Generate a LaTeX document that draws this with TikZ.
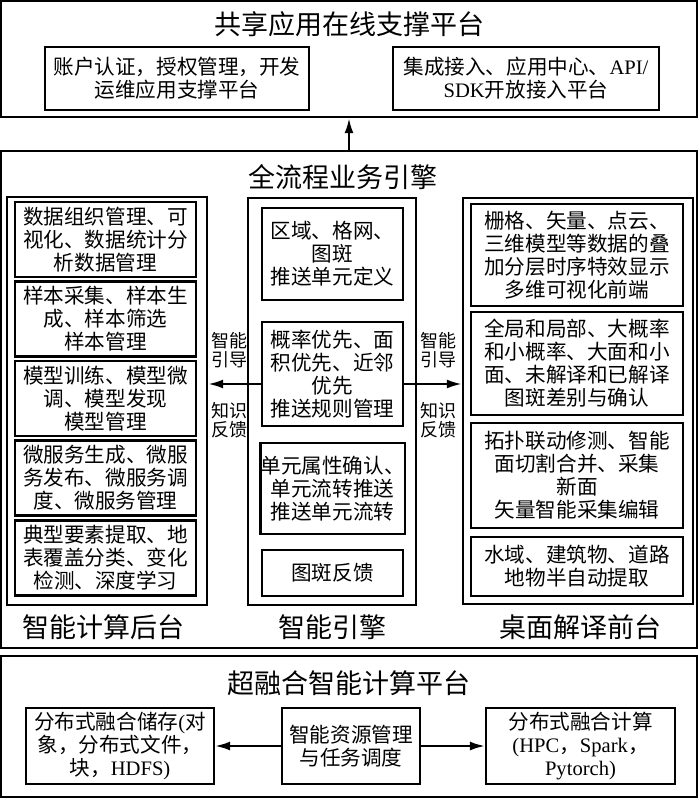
\documentclass[tikz,border=0pt]{standalone}
\usepackage{fontspec}
\usepackage{tikz}
\usetikzlibrary{arrows.meta,calc,positioning}
\setmainfont{Noto Sans CJK SC}
\newfontfamily\latfont{Liberation Serif}
\newcommand{\lat}[1]{{\latfont #1}}
\newcommand{\bodyfont}{\fontsize{10.3}{11.5}\selectfont}
\newcommand{\titlefont}{\fontsize{13.5}{15}\selectfont}
\newcommand{\notefont}{\fontsize{9}{9.8}\selectfont}
\tikzset{
  frame/.style={draw, line width=1.2pt, inner sep=0pt},
  cell/.style={draw, line width=1.1pt, inner sep=0pt, align=center, font=\bodyfont},
  heading/.style={inner sep=0pt, font=\titlefont},
  note/.style={inner sep=0pt, align=center, font=\notefont},
  arr/.style={line width=1.1pt, -{Latex[length=7.5pt,width=4.5pt]}}
}

\begin{document}
\begin{tikzpicture}[x=0.5pt,y=-0.5pt]
    \useasboundingbox (0,0) rectangle (700,799);
    % top platform
    \node[frame, minimum width=348pt, minimum height=58pt] (top) at (349,59) {};
    \node[heading] (toptitle) at (349,24) {共享应用在线支撑平台};
    \node[cell, minimum width=132pt, minimum height=31.5pt] (acct) at (177,78.5)
        {账户认证，授权管理，开发\\运维应用支撑平台};
    \node[cell, minimum width=133pt, minimum height=31.5pt] (api) at (526,78.5)
        {集成接入、应用中心、\lat{API/}\\\lat{SDK}开放接入平台};
    % engine
    \node[frame, minimum width=348pt, minimum height=248.5pt] (engine) at (349,399.5) {};
    \node[heading] (enginetitle) at (343,177) {全流程业务引擎};
    \draw[arr] (engine.north) -- (top.south);
    % left column
    \node[frame, minimum width=100pt, minimum height=204pt] (lcol) at (107,401) {};
    \node[cell, minimum width=90.5pt, minimum height=37.5pt] (l1) at (105.5,239.5)
        {数据组织管理、可\\视化、数据统计分\\析数据管理};
    \node[cell, minimum width=90.5pt, minimum height=37.5pt] (l2) at (105.5,319)
        {样本采集、样本生\\成、样本筛选\\样本管理};
    \node[cell, minimum width=90.5pt, minimum height=37.5pt] (l3) at (105.5,398.5)
        {模型训练、模型微\\调、模型发现\\模型管理};
    \node[cell, minimum width=90.5pt, minimum height=37.5pt] (l4) at (105.5,478)
        {微服务生成、微服\\务发布、微服务调\\度、微服务管理};
    \node[cell, minimum width=90.5pt, minimum height=37.5pt] (l5) at (105.5,558)
        {典型要素提取、地\\表覆盖分类、变化\\检测、深度学习};
    \node[heading] (ltitle) at (104,627) {智能计算后台};
    % middle column
    \node[frame, minimum width=84pt, minimum height=203.5pt] (mcol) at (332,401.5) {};
    \node[cell, minimum width=70.5pt, minimum height=46pt] (m1) at (332.5,254)
        {区域、格网、\\图斑\\推送单元定义};
    \node[cell, minimum width=70.5pt, minimum height=52pt] (m2) at (332.5,374)
        {概率优先、面\\积优先、近邻\\优先\\推送规则管理};
    \node[cell, minimum width=70.5pt, minimum height=45.5pt] (m3) at (332.5,488.5)
        {单元属性确认、\\单元流转推送\\推送单元流转};
    \node[cell, minimum width=70.5pt, minimum height=23pt] (m4) at (332.5,573)
        {图斑反馈};
    \node[heading] (mtitle) at (332,627) {智能引擎};
    % right column
    \node[frame, minimum width=115pt, minimum height=203pt] (rcol) at (578,401) {};
    \node[cell, minimum width=106pt, minimum height=51pt] (r1) at (577,255)
        {栅格、矢量、点云、\\三维模型等数据的叠\\加分层时序特效显示\\多维可视化前端};
    \node[cell, minimum width=106pt, minimum height=51.5pt] (r2) at (577,363.5)
        {全局和局部、大概率\\和小概率、大面和小\\面、未解译和已解译\\图斑差别与确认};
    \node[cell, minimum width=106pt, minimum height=52.5pt] (r3) at (577,475.5)
        {拓扑联动修测、智能\\面切割合并、采集\\新面\\矢量智能采集编辑};
    \node[cell, minimum width=106pt, minimum height=29.5pt] (r4) at (577,566.5)
        {水域、建筑物、道路\\地物半自动提取};
    \node[heading] (rtitle) at (580,627) {桌面解译前台};
    % guidance / feedback
    \coordinate (g) at ([yshift=-5pt]m2.west);
    \coordinate (h) at ([yshift=-5pt]m2.east);
    \draw[arr] (g) -- (g -| lcol.east);
    \draw[arr] (h) -- (h -| rcol.west);
    \node[note] (lguide) at (229,350) {智能\\引导};
    \node[note] (lback) at (229,420) {知识\\反馈};
    \node[note] (rguide) at (438,350) {智能\\引导};
    \node[note] (rback) at (438,420) {知识\\反馈};
    % bottom platform
    \node[frame, minimum width=348pt, minimum height=70.5pt] (base) at (349,726.5) {};
    \node[heading] (basetitle) at (349,683) {超融合智能计算平台};
    \node[cell, minimum width=94pt, minimum height=38pt] (store) at (120,746)
        {分布式融合储存\lat{(}对\\象，分布式文件，\\块，\lat{HDFS)}};
    \node[cell, minimum width=69pt, minimum height=38pt] (sched) at (351,746)
        {智能资源管理\\与任务调度};
    \node[cell, minimum width=94.5pt, minimum height=38pt] (comp) at (580.5,746)
        {分布式融合计算\\\lat{(HPC}，\lat{Spark}，\\\lat{Pytorch)}};
    \draw[arr] (sched) -- (store);
    \draw[arr] (sched) -- (comp);
\end{tikzpicture}
\end{document}
